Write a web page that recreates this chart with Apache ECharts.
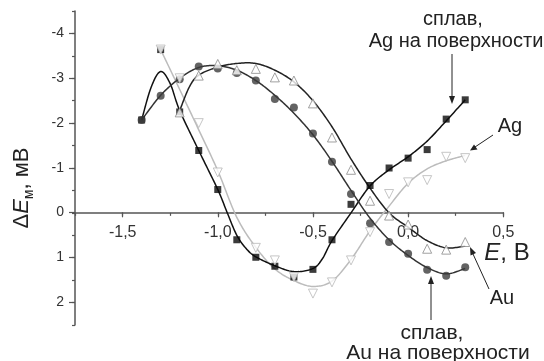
<!DOCTYPE html>
<html><head><meta charset="utf-8">
<script src="https://cdn.jsdelivr.net/npm/echarts@6/dist/echarts.min.js"></script>
<style>html,body{margin:0;padding:0;background:#fff}#c{width:544px;height:361px}</style>
</head><body><div id="c"></div>
<script>
// x-axis ticks / labels
const xTicks = [-1.5, -1.0, -0.5, 0.0, 0.5];
const yTicks = [-4, -3, -2, -1, 0, 1, 2];

// сплав, Ag на поверхности (filled squares)
const sqX = [-1.4,-1.3,-1.2,-1.1,-1.0,-0.9,-0.8,-0.7,-0.6,-0.5,-0.4,-0.3,-0.2,-0.1,0.0,0.1,0.2,0.3];
const sqY = [-2.07,-3.64,-2.25,-1.39,-0.52,0.60,0.99,1.19,1.43,1.26,0.60,-0.19,-0.61,-1.00,-1.22,-1.41,-2.09,-2.52];
const sqFitX = [-1.4,-1.35,-1.3,-1.25,-1.2,-1.1,-1.0,-0.95,-0.9,-0.85,-0.8,-0.7,-0.6,-0.5,-0.45,-0.4,-0.3,-0.2,-0.1,0.0,0.1,0.2,0.3];
const sqFitY = [-2.07,-2.80,-3.15,-2.88,-2.28,-1.39,-0.52,0.0,0.50,0.80,0.98,1.18,1.31,1.24,1.02,0.62,0.0,-0.60,-0.96,-1.25,-1.60,-2.05,-2.52];

// сплав, Au на поверхности (filled circles)
const ciX = [-1.4,-1.3,-1.2,-1.1,-1.0,-0.9,-0.8,-0.7,-0.6,-0.5,-0.4,-0.3,-0.2,-0.1,0.0,0.1,0.2,0.3];
const ciY = [-2.07,-2.61,-2.98,-3.26,-3.22,-3.12,-2.95,-2.54,-2.35,-1.77,-1.14,-0.42,0.23,0.65,0.91,1.27,1.40,1.21];
const ciFitX = [-1.4,-1.3,-1.2,-1.1,-1.0,-0.9,-0.8,-0.7,-0.6,-0.5,-0.4,-0.3,-0.2,-0.1,0.0,0.1,0.2,0.3];
const ciFitY = [-2.07,-2.62,-3.00,-3.24,-3.28,-3.18,-2.95,-2.62,-2.22,-1.74,-1.15,-0.50,0.12,0.60,0.95,1.22,1.36,1.24];

// Au (open up-triangles)
const auX = [-1.2,-1.1,-1.0,-0.9,-0.8,-0.7,-0.6,-0.5,-0.4,-0.3,-0.2,-0.1,0.0,0.1,0.2,0.3];
const auY = [-2.24,-3.06,-3.32,-3.18,-3.21,-3.02,-2.95,-2.44,-1.68,-0.96,-0.27,0.06,0.26,0.80,0.82,0.65];
const auFitX = [-1.2,-1.15,-1.1,-1.0,-0.9,-0.8,-0.7,-0.6,-0.5,-0.4,-0.3,-0.2,-0.1,0.0,0.1,0.2,0.3];
const auFitY = [-2.28,-2.80,-3.07,-3.25,-3.33,-3.33,-3.18,-2.92,-2.50,-1.92,-1.20,-0.55,0.0,0.32,0.62,0.78,0.74];

// Ag (open down-triangles)
const agX = [-1.3,-1.2,-1.1,-1.0,-0.8,-0.7,-0.6,-0.5,-0.4,-0.3,-0.2,-0.1,0.0,0.1,0.2,0.3];
const agY = [-3.64,-3.00,-2.00,-0.90,0.78,1.06,1.43,1.80,1.55,1.06,0.43,-0.42,-0.68,-0.73,-1.25,-1.22];
const agFitX = [-1.3,-1.2,-1.1,-1.0,-0.9,-0.8,-0.7,-0.6,-0.5,-0.4,-0.3,-0.2,-0.1,0.0,0.1,0.2,0.3];
const agFitY = [-3.64,-2.75,-1.85,-0.94,0.10,0.77,1.25,1.51,1.64,1.52,1.04,0.40,-0.15,-0.66,-0.98,-1.16,-1.28];

const zip = (a, b) => a.map((v, i) => [v, b[i]]);
const FONT = '"Liberation Sans", Arial, sans-serif';
const AX = '#555';

const chart = echarts.init(document.getElementById('c'), null, {renderer: 'canvas'});

// smooth fitted curve: Catmull-Rom through points mapped by the axes
const fitS = (xArr, yArr, color, width, z) => ({
  type: 'custom', xAxisIndex: 0, yAxisIndex: 0, data: zip(xArr, yArr), z: z, silent: true,
  renderItem: (params, api) => {
    if (params.dataIndex !== 0) return null;
    const P = xArr.map((x, i) => api.coord([x, yArr[i]]));
    const pts = [];
    const n = P.length;
    for (let i = 0; i < n - 1; i++) {
      const p0 = P[Math.max(i - 1, 0)], p1 = P[i], p2 = P[i + 1], p3 = P[Math.min(i + 2, n - 1)];
      for (let k = 0; k < 16; k++) {
        const t = k / 16, t2 = t * t, t3 = t2 * t;
        const f = j => 0.5 * (2 * p1[j] + (-p0[j] + p2[j]) * t + (2 * p0[j] - 5 * p1[j] + 4 * p2[j] - p3[j]) * t2 + (-p0[j] + 3 * p1[j] - 3 * p2[j] + p3[j]) * t3);
        pts.push([f(0), f(1)]);
      }
    }
    pts.push(P[n - 1]);
    return {type: 'polyline', shape: {points: pts}, style: {stroke: color, lineWidth: width, fill: 'none'}};
  }
});
const scat = (x, y, symbol, size, style, rot, z) => ({
  type: 'scatter', xAxisIndex: 0, yAxisIndex: 0, data: zip(x, y), symbol: symbol,
  symbolSize: size, symbolRotate: rot || 0, itemStyle: style, silent: true, z: z
});

const option = {
  animation: false,
  grid: [
    {left: 75, right: 40.7, top: 11, bottom: 36},
    {left: 122.7, right: 40.7, top: 33.3, bottom: 58.7}
  ],
  xAxis: [
    {gridIndex: 0, type: 'value', min: -1.75, max: 0.5, interval: 0.25,
     axisLine: {onZero: true, lineStyle: {color: AX, width: 1.5}},
     axisTick: {length: 3, lineStyle: {color: AX, width: 1.2}},
     axisLabel: {show: false}, splitLine: {show: false}},
    {gridIndex: 1, type: 'value', position: 'bottom', offset: -90,
     min: xTicks[0], max: xTicks[xTicks.length - 1], interval: 0.5,
     axisLine: {show: true, onZero: false, lineStyle: {opacity: 0}},
     axisTick: {length: 5, lineStyle: {color: AX, width: 1.2}},
     axisLabel: {margin: 12, fontSize: 16, color: '#333', fontFamily: FONT,
                 formatter: v => v.toFixed(1).replace('.', ',')},
     splitLine: {show: false}}
  ],
  yAxis: [
    {gridIndex: 0, type: 'value', inverse: true, min: -4.5, max: 2.5, interval: 0.5,
     axisLine: {show: true, onZero: false, lineStyle: {color: AX, width: 1.5}},
     axisTick: {length: 3, lineStyle: {color: AX, width: 1.2}},
     axisLabel: {show: false}, splitLine: {show: false}},
    {gridIndex: 1, type: 'value', inverse: true, min: yTicks[0], max: yTicks[yTicks.length - 1], interval: 1,
     offset: 47.7,
     axisLine: {show: true, onZero: false, lineStyle: {opacity: 0}},
     axisTick: {length: 6, lineStyle: {color: AX, width: 1.2}},
     axisLabel: {margin: 11, fontSize: 14, color: '#333', fontFamily: FONT},
     splitLine: {show: false}}
  ],
  series: [
    fitS(agFitX, agFitY, '#bcbcbc', 1.5, 2),
    fitS(sqFitX, sqFitY, '#111', 1.5, 2),
    fitS(ciFitX, ciFitY, '#333', 1.5, 2),
    fitS(auFitX, auFitY, '#222', 1.5, 2),
    scat(sqX, sqY, 'rect', 7, {color: '#0a0a0a'}, 0, 3),
    scat(ciX, ciY, 'circle', 8, {color: '#3c3c3c'}, 0, 3),
    scat(auX, auY, 'triangle', 9, {color: '#fff', borderColor: '#8a8a8a', borderWidth: 1}, 0, 4),
    scat(agX, agY, 'triangle', 9, {color: '#fff', borderColor: '#b8b8b8', borderWidth: 1}, 180, 4)
  ],
  graphic: [
    // y-axis title
    {type: 'text', x: 22, y: 188, rotation: Math.PI / 2, z: 10,
     style: {text: '{n|Δ}{e|E}{s|м}{n|, мВ}', align: 'center', verticalAlign: 'middle',
             rich: {n: {fontSize: 22, fontFamily: FONT, fill: '#222', lineHeight: 28, verticalAlign: 'middle'},
                    e: {fontSize: 22, fontFamily: FONT, fontStyle: 'italic', fill: '#222', lineHeight: 28, verticalAlign: 'middle'},
                    s: {fontSize: 14, fontFamily: FONT, fill: '#222', lineHeight: 28, verticalAlign: 'bottom'}}}},
    // x-axis title
    {type: 'text', x: 507, y: 253, z: 10,
     style: {text: '{e|E}{n|, В}', align: 'center', verticalAlign: 'middle',
             rich: {n: {fontSize: 24, fontFamily: FONT, fill: '#222'},
                    e: {fontSize: 24, fontFamily: FONT, fontStyle: 'italic', fill: '#222'}}}},
    // annotations
    {type: 'text', x: 453, y: 19, z: 10, style: {text: 'сплав,', fontSize: 20, fontFamily: FONT, fill: '#222', align: 'center', verticalAlign: 'middle'}},
    {type: 'text', x: 456, y: 41, z: 10, style: {text: 'Ag на поверхности', fontSize: 20, fontFamily: FONT, fill: '#222', align: 'center', verticalAlign: 'middle'}},
    {type: 'line', z: 10, shape: {x1: 452, y1: 54, x2: 452, y2: 97}, style: {stroke: '#222', lineWidth: 1}},
    {type: 'polygon', z: 10, shape: {points: [[449, 96], [455, 96], [452, 104]]}, style: {fill: '#222'}},

    {type: 'text', x: 510, y: 126, z: 10, style: {text: 'Ag', fontSize: 20, fontFamily: FONT, fill: '#222', align: 'center', verticalAlign: 'middle'}},
    {type: 'line', z: 10, shape: {x1: 493, y1: 135, x2: 475, y2: 147}, style: {stroke: '#222', lineWidth: 1}},
    {type: 'polygon', z: 10, shape: {points: [[470, 150.5], [474, 144.5], [477.5, 149.5]]}, style: {fill: '#222'}},

    {type: 'text', x: 502, y: 298, z: 10, style: {text: 'Au', fontSize: 20, fontFamily: FONT, fill: '#222', align: 'center', verticalAlign: 'middle'}},
    {type: 'line', z: 10, shape: {x1: 489, y1: 289, x2: 473, y2: 254}, style: {stroke: '#222', lineWidth: 1}},
    {type: 'polygon', z: 10, shape: {points: [[470, 247], [470.5, 255.5], [476, 253]]}, style: {fill: '#222'}},

    {type: 'text', x: 432, y: 333, z: 10, style: {text: 'сплав,', fontSize: 21, fontFamily: FONT, fill: '#222', align: 'center', verticalAlign: 'middle'}},
    {type: 'text', x: 438, y: 353, z: 10, style: {text: 'Au на поверхности', fontSize: 21, fontFamily: FONT, fill: '#222', align: 'center', verticalAlign: 'middle'}},
    {type: 'line', z: 10, shape: {x1: 431, y1: 320, x2: 431, y2: 283}, style: {stroke: '#222', lineWidth: 1}},
    {type: 'polygon', z: 10, shape: {points: [[428, 284], [434, 284], [431, 276]]}, style: {fill: '#222'}}
  ]
};
chart.setOption(option);
</script>
</body></html>
